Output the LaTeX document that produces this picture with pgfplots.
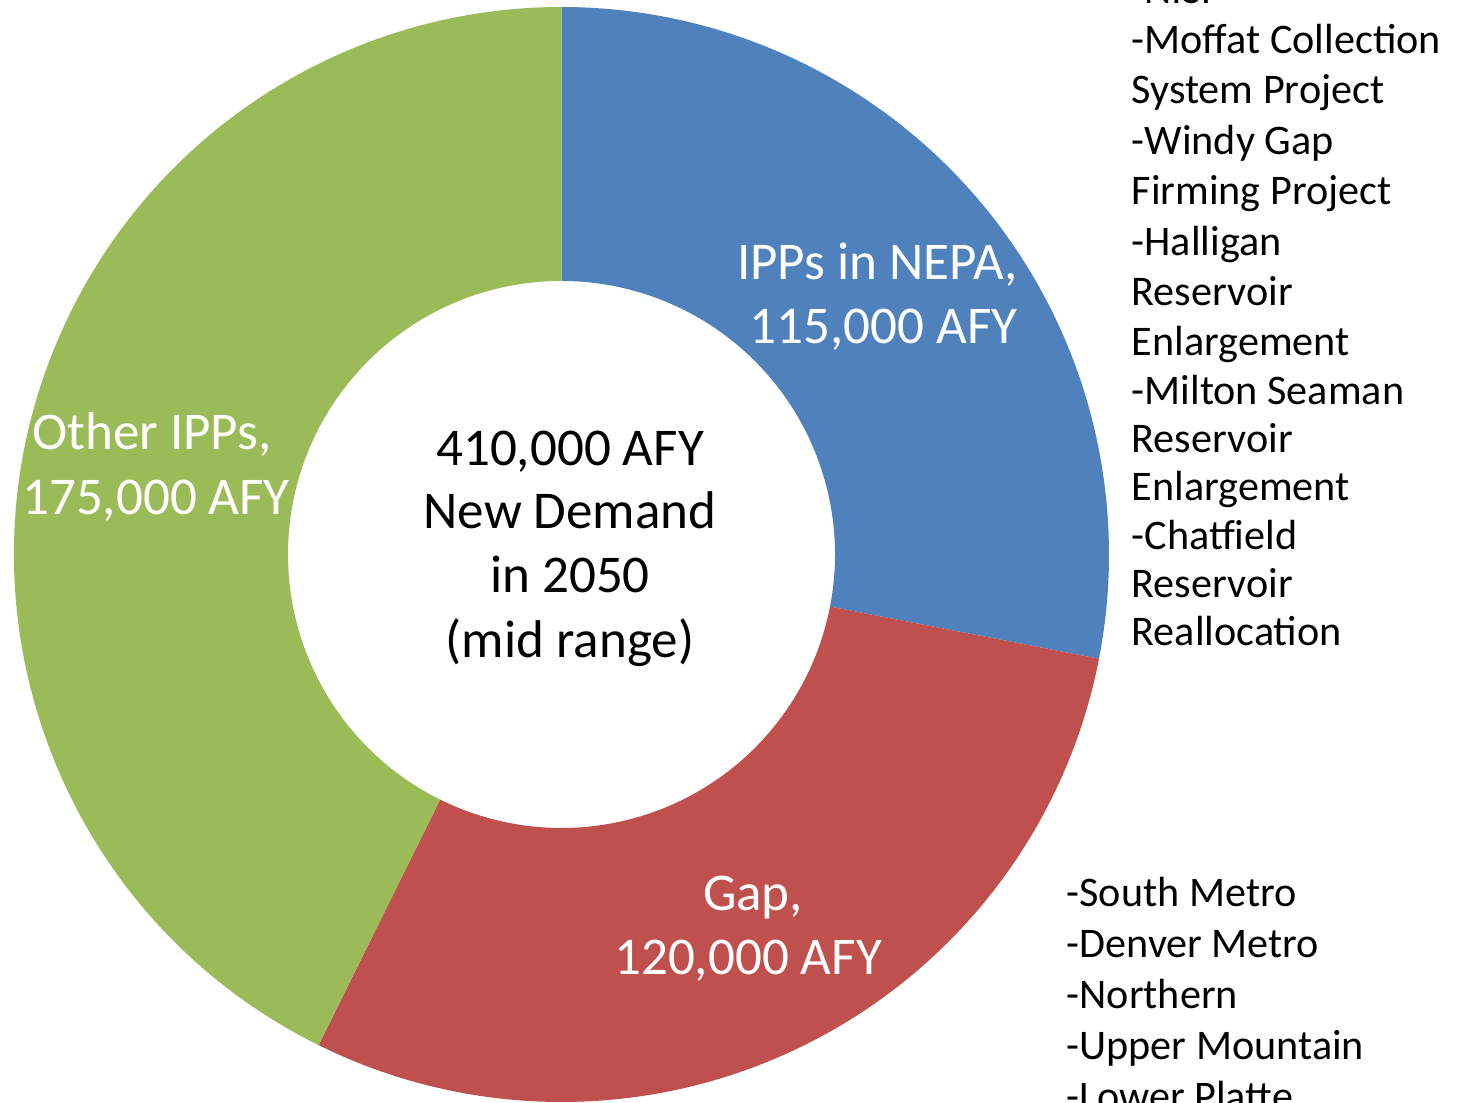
\documentclass[border=0pt]{standalone}
\usepackage{fontspec}
\setmainfont{Carlito}
\usepackage{pgfplots}
\usepackage{pgfplotstable}
\pgfplotsset{compat=1.18}
\definecolor{cBlue}{HTML}{4F81BD}
\definecolor{cRed}{HTML}{C0504D}
\definecolor{cGreen}{HTML}{9BBB59}
\pgfplotstableread{
label value
NEPA 115000
Gap 120000
Other 175000
}\donut
\pgfplotstablegetelem{0}{value}\of\donut \edef\vA{\pgfplotsretval}
\pgfplotstablegetelem{1}{value}\of\donut \edef\vB{\pgfplotsretval}
\pgfplotstablegetelem{2}{value}\of\donut \edef\vC{\pgfplotsretval}
\edef\tot{\fpeval{\vA+\vB+\vC}}
\edef\aA{90}
\edef\aB{\fpeval{round(90-360*\vA/\tot,4)}}
\edef\aC{\fpeval{round(\aB-360*\vB/\tot,4)}}
\edef\aD{\fpeval{round(\aC-360*\vC/\tot,4)}}
\newcommand{\bigf}{\fontsize{15.1}{18}\selectfont}
\newcommand{\smlf}{\fontsize{12}{14}\selectfont}
% line node: anchor, font+colour, x, y(px from top), text
\newcommand{\tl}[5]{\node[anchor=#1,inner sep=0pt,font=#2] at (axis cs:#3,{1102-#4}) {#5};}
\begin{document}
\begin{tikzpicture}
\begin{axis}[
  x=0.1mm, y=0.1mm,
  xmin=0, xmax=1463, ymin=0, ymax=1102,
  hide axis, clip=false,
]
\addplot[draw=none] coordinates {(0,0) (1463,1102)};
\coordinate (bl) at (axis cs:0,0);
\coordinate (tr) at (axis cs:1463,1102);
\fill[cBlue, shift={(axis cs:561.5,547.5)}] (\aA:54.75mm) arc[start angle=\aA, end angle=\aB, radius=54.75mm] -- (\aB:27.35mm) arc[start angle=\aB, end angle=\aA, radius=27.35mm] -- cycle;
\fill[cRed, shift={(axis cs:561.5,547.5)}] (\aB:54.75mm) arc[start angle=\aB, end angle=\aC, radius=54.75mm] -- (\aC:27.35mm) arc[start angle=\aC, end angle=\aB, radius=27.35mm] -- cycle;
\fill[cGreen, shift={(axis cs:561.5,547.5)}] (\aC:54.75mm) arc[start angle=\aC, end angle=\aD, radius=54.75mm] -- (\aD:27.35mm) arc[start angle=\aD, end angle=\aC, radius=27.35mm] -- cycle;
% centre
\tl{base}{\bigf}{570}{466}{410,000 AFY}
\tl{base}{\bigf}{570}{529}{New Demand}
\tl{base}{\bigf}{570}{593}{in 2050}
\tl{base}{\bigf}{570}{658}{(mid range)}
% data labels
\tl{base east}{\bigf\color{white}}{1018}{280}{IPPs in NEPA,}
\tl{base east}{\bigf\color{white}}{1018}{344}{115,000 AFY}
\tl{base}{\bigf\color{white}}{152}{450}{Other IPPs,}
\tl{base}{\bigf\color{white}}{156}{515}{175,000 AFY}
\tl{base}{\bigf\color{white}}{753}{910}{Gap,}
\tl{base}{\bigf\color{white}}{748}{974}{120,000 AFY}
% right list
\tl{base west}{\smlf}{1131}{4}{-NISP}
\tl{base west}{\smlf}{1131}{53.5}{-Moffat Collection}
\tl{base west}{\smlf}{1131}{104}{System Project}
\tl{base west}{\smlf}{1131}{154.5}{-Windy Gap}
\tl{base west}{\smlf}{1131}{205}{Firming Project}
\tl{base west}{\smlf}{1131}{256}{-Halligan}
\tl{base west}{\smlf}{1131}{306}{Reservoir}
\tl{base west}{\smlf}{1131}{356}{Enlargement}
\tl{base west}{\smlf}{1131}{405}{-Milton Seaman}
\tl{base west}{\smlf}{1131}{453}{Reservoir}
\tl{base west}{\smlf}{1131}{501}{Enlargement}
\tl{base west}{\smlf}{1131}{550}{-Chatfield}
\tl{base west}{\smlf}{1131}{598}{Reservoir}
\tl{base west}{\smlf}{1131}{646}{Reallocation}
% lower list
\tl{base west}{\smlf}{1066}{906}{-South Metro}
\tl{base west}{\smlf}{1066}{957}{-Denver Metro}
\tl{base west}{\smlf}{1066}{1008}{-Northern}
\tl{base west}{\smlf}{1066}{1059}{-Upper Mountain}
\tl{base west}{\smlf}{1066}{1110}{-Lower Platte}
\end{axis}
\pgfresetboundingbox
\useasboundingbox (bl) rectangle (tr);
\end{tikzpicture}
\end{document}
